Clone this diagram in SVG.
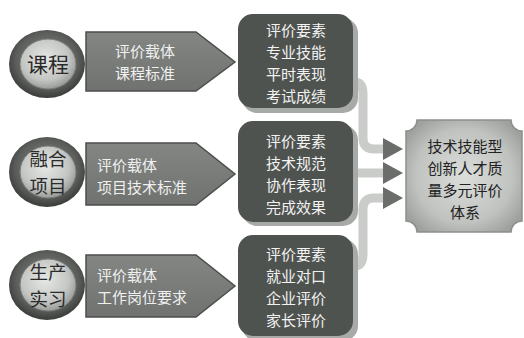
<svg xmlns="http://www.w3.org/2000/svg" width="524" height="338" viewBox="0 0 524 338">
<defs>
<radialGradient id="ring" cx="50%" cy="45%" r="55%">
<stop offset="0" stop-color="#8a8c8a"/>
<stop offset="0.75" stop-color="#5a5d5a"/>
<stop offset="1" stop-color="#3a3c3a"/>
</radialGradient>
<radialGradient id="inner" cx="45%" cy="40%" r="60%">
<stop offset="0" stop-color="#e6e8e6"/>
<stop offset="0.7" stop-color="#c4c6c4"/>
<stop offset="1" stop-color="#9a9c9a"/>
</radialGradient>
<radialGradient id="plaque" cx="50%" cy="50%" r="60%">
<stop offset="0" stop-color="#dcdedc"/>
<stop offset="0.7" stop-color="#c0c2c0"/>
<stop offset="1" stop-color="#9fa19f"/>
</radialGradient>
<linearGradient id="pent" x1="0" y1="0" x2="0" y2="1">
<stop offset="0" stop-color="#838683"/>
<stop offset="1" stop-color="#6f726f"/>
</linearGradient>
<marker id="head" viewBox="0 0 20 22" refX="0" refY="11" markerWidth="20" markerHeight="22" markerUnits="userSpaceOnUse" orient="auto">
<path d="M0 0 L20 11 L0 22 Z" fill="#6a6d6a"/>
</marker>
</defs>
<style>
.t{font-family:"Noto Sans CJK SC","Noto Sans CJK JP",sans-serif}
.circ{font-size:18.5px;fill:#2a2a2a;text-anchor:middle}
.pt{font-size:15px;fill:#f0f0f0}
.bt{font-size:15px;fill:#f2f2f2;text-anchor:middle}
.rt{font-size:15px;fill:#222;text-anchor:middle}
.ring{fill:url(#ring)}
.in{fill:url(#inner);stroke:#7c7e7c;stroke-width:1}
.pg{fill:url(#pent);stroke:#4c4e4c;stroke-width:1.5}
.bx{fill:#4f534f}
.sh{fill:#a7aaa7}
.shaft{fill:none;stroke:#c9ccc9;stroke-width:9}
</style>
<rect width="524" height="338" fill="#ffffff"/>

<g id="connectors">
<path class="shaft" d="M354 82 Q363 82 363 94 L363 138 Q363 149 374 149 L383 149" marker-end="url(#head)"/>
<path class="shaft" d="M356 173 L383 173" marker-end="url(#head)"/>
<path class="shaft" d="M354 266 Q363 266 363 254 L363 209 Q363 198 374 198 L383 198" marker-end="url(#head)"/>
</g>

<g id="node-kecheng">
<ellipse class="ring" cx="47" cy="64" rx="38" ry="34"/>
<ellipse class="in" cx="48" cy="64" rx="28" ry="25"/>
<text class="t circ" x="48" y="72" style="font-size:21px">课程</text>
</g>
<g id="node-ronghe">
<ellipse class="ring" cx="47" cy="172" rx="38" ry="35"/>
<ellipse class="in" cx="48" cy="172" rx="28" ry="26"/>
<text class="t circ"><tspan x="48" y="165.5">融合</tspan><tspan x="48" y="192.5">项目</tspan></text>
</g>
<g id="node-shengchan">
<ellipse class="ring" cx="47" cy="285" rx="38" ry="35"/>
<ellipse class="in" cx="48" cy="285" rx="28" ry="26"/>
<text class="t circ"><tspan x="48" y="278.5">生产</tspan><tspan x="48" y="305.5">实习</tspan></text>
</g>

<g id="carrier-1">
<path class="pg" d="M86 32 L196 32 L235 62 L196 91 L86 91 Z"/>
<text class="t pt" text-anchor="middle"><tspan x="145" y="56.5">评价载体</tspan><tspan x="145" y="78.5">课程标准</tspan></text>
</g>
<g id="carrier-2">
<path class="pg" d="M86 143 L196 143 L235 174 L196 205 L86 205 Z"/>
<text class="t pt"><tspan x="97" y="170.5">评价载体</tspan><tspan x="97" y="192.5">项目技术标准</tspan></text>
</g>
<g id="carrier-3">
<path class="pg" d="M86 255 L196 255 L235 286 L196 317 L86 317 Z"/>
<text class="t pt"><tspan x="97" y="281">评价载体</tspan><tspan x="97" y="303">工作岗位要求</tspan></text>
</g>

<g id="elements-1">
<rect class="sh" x="242" y="18" width="116" height="95" rx="15"/>
<rect class="bx" x="238" y="14" width="115" height="94" rx="15"/>
<text class="t bt"><tspan x="296" y="35.5">评价要素</tspan><tspan x="296" y="57.5">专业技能</tspan><tspan x="296" y="79.5">平时表现</tspan><tspan x="296" y="101.5">考试成绩</tspan></text>
</g>
<g id="elements-2">
<rect class="sh" x="242" y="125" width="116" height="101" rx="15"/>
<rect class="bx" x="238" y="121" width="115" height="101" rx="15"/>
<text class="t bt"><tspan x="296" y="146.5">评价要素</tspan><tspan x="296" y="168.5">技术规范</tspan><tspan x="296" y="190.5">协作表现</tspan><tspan x="296" y="212.5">完成效果</tspan></text>
</g>
<g id="elements-3">
<rect class="sh" x="242" y="239" width="116" height="102" rx="15"/>
<rect class="bx" x="238" y="235" width="115" height="101" rx="15"/>
<text class="t bt"><tspan x="296" y="259.5">评价要素</tspan><tspan x="296" y="281.5">就业对口</tspan><tspan x="296" y="303.5">企业评价</tspan><tspan x="296" y="325.5">家长评价</tspan></text>
</g>

<g id="node-system">
<path d="M417 120 L511 120 A11 11 0 0 0 522 131 L522 221 A11 11 0 0 0 511 232 L417 232 A11 11 0 0 0 406 221 L406 131 A11 11 0 0 0 417 120 Z" fill="url(#plaque)" stroke="#8d8f8d" stroke-width="1.5"/>
<text class="t rt"><tspan x="465" y="151.5">技术技能型</tspan><tspan x="465" y="173.5">创新人才质</tspan><tspan x="465" y="195.5">量多元评价</tspan><tspan x="465" y="217.5">体系</tspan></text>
</g>
</svg>
